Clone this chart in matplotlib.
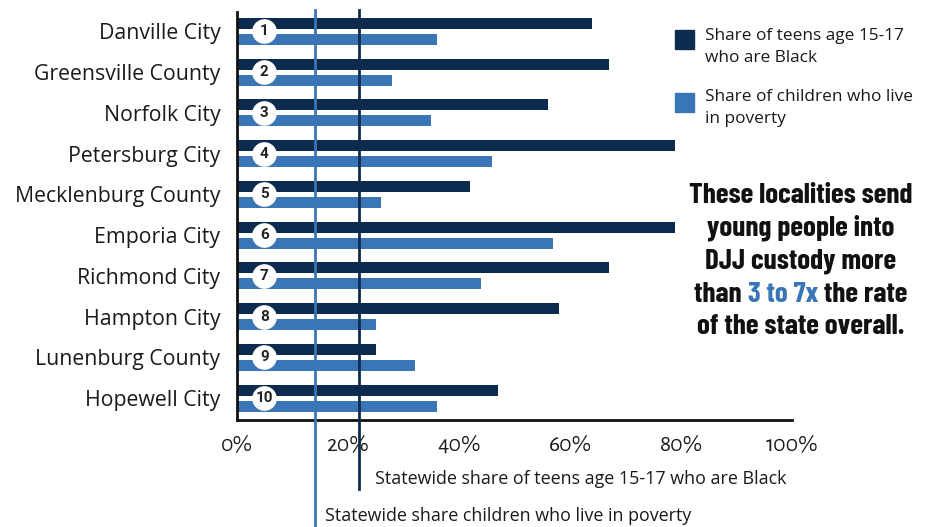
import matplotlib.pyplot as plt
import matplotlib.patches as mpatches
import numpy as np

localities = ["Danville City", "Greensville County", "Norfolk City", "Petersburg City",
              "Mecklenburg County", "Emporia City", "Richmond City", "Hampton City",
              "Lunenburg County", "Hopewell City"]
black_share = [64, 67, 56, 79, 42, 79, 67, 58, 25, 47]
poverty_share = [36, 28, 35, 46, 26, 57, 44, 25, 32, 36]
state_black = 22
state_poverty = 14
x_ticks = [0, 20, 40, 60, 80, 100]

dark = "#0d2a4f"
light = "#3a76b5"
body = ["Open Sans", "DejaVu Sans"]

fig = plt.figure(figsize=(9.27, 5.27), dpi=100)
ax = fig.add_axes([0.2557, 0.203, 0.5987, 0.774])

y = np.arange(len(localities))
h = 0.27
ax.barh(y - 0.196, black_share, height=h, color=dark, zorder=2)
ax.barh(y + 0.196, poverty_share, height=h, color=light, zorder=2)

# statewide reference lines, running past the axis
ax.axvline(state_black, ymin=-0.17, ymax=1.005, color=dark, lw=2, clip_on=False, zorder=3)
ax.axvline(state_poverty, ymin=-0.262, ymax=1.005, color=light, lw=2, clip_on=False, zorder=3)

# numbered circles
ax.scatter([4.9] * len(y), y, s=280, color="white", zorder=4, clip_on=False)
for i in y:
    ax.text(4.9, i, str(i + 1), ha="center", va="center", fontsize=11,
            fontweight="bold", color="#222222", family=["Roboto", "DejaVu Sans"], zorder=5)

ax.set_xlim(0, 100)
ax.set_ylim(9.54, -0.47)
ax.set_yticks(y)
ax.set_yticklabels(localities, fontsize=15.3, family=body, color="#1a1a1a")
ax.set_xticks(x_ticks)
ax.set_xticklabels([f"{t}%" for t in x_ticks], fontsize=17,
                   family=["Alegreya Sans", "Lato", "DejaVu Sans"], color="#1a1a1a")
ax.tick_params(length=0)
ax.tick_params(axis="y", pad=12)
ax.tick_params(axis="x", pad=10)
for s in ["top", "right"]:
    ax.spines[s].set_visible(False)
for s in ["left", "bottom"]:
    ax.spines[s].set_linewidth(2)
    ax.spines[s].set_color("#111111")

# labels for reference lines
fig.text(375 / 927, 1 - 479 / 527, "Statewide share of teens age 15-17 who are Black",
         fontsize=12.9, family=body, va="center", color="#1a1a1a")
fig.text(325 / 927, 1 - 516 / 527, "Statewide share children who live in poverty",
         fontsize=12.9, family=body, va="center", color="#1a1a1a")

# legend
fig.patches.append(mpatches.Rectangle((675 / 927, 1 - 49 / 527), 19 / 927, 19 / 527,
                                      transform=fig.transFigure, color=dark))
fig.patches.append(mpatches.Rectangle((675 / 927, 1 - 112 / 527), 19 / 927, 19 / 527,
                                      transform=fig.transFigure, color=light))
fig.text(705 / 927, 1 - 47 / 527, "Share of teens age 15-17\nwho are Black", fontsize=12.4,
         family=body, va="center", linespacing=1.5, color="#1a1a1a")
fig.text(705 / 927, 1 - 108 / 527, "Share of children who live\nin poverty", fontsize=12.4,
         family=body, va="center", linespacing=1.5, color="#1a1a1a")

# callout
cx = 801 / 927
lines = ["These localities send", "young people into", "DJJ custody more", None,
         "of the state overall."]
ys = [196, 228, 261, 294, 326]
font = dict(fontsize=21, fontweight="bold", family=["Barlow Condensed", "Roboto"],
            ha="center", va="center", color="#111111")
for ln, yy in zip(lines, ys):
    if ln is not None:
        fig.text(cx, 1 - yy / 527, ln, **font)
# mixed-colour line
parts = [("than ", "#111111"), ("3 to 7x", light), (" the rate", "#111111")]
renderer = fig.canvas.get_renderer()
widths = []
for p, c in parts:
    t = fig.text(0, 0, p, **{**font, "ha": "left"})
    widths.append(t.get_window_extent(renderer).width)
    t.remove()
total = sum(widths)
xpos = cx * 927 - total / 2
for (p, c), w in zip(parts, widths):
    fig.text(xpos / 927, 1 - 294 / 527, p, **{**font, "ha": "left", "color": c})
    xpos += w

fig.savefig("out.png", dpi=100)
